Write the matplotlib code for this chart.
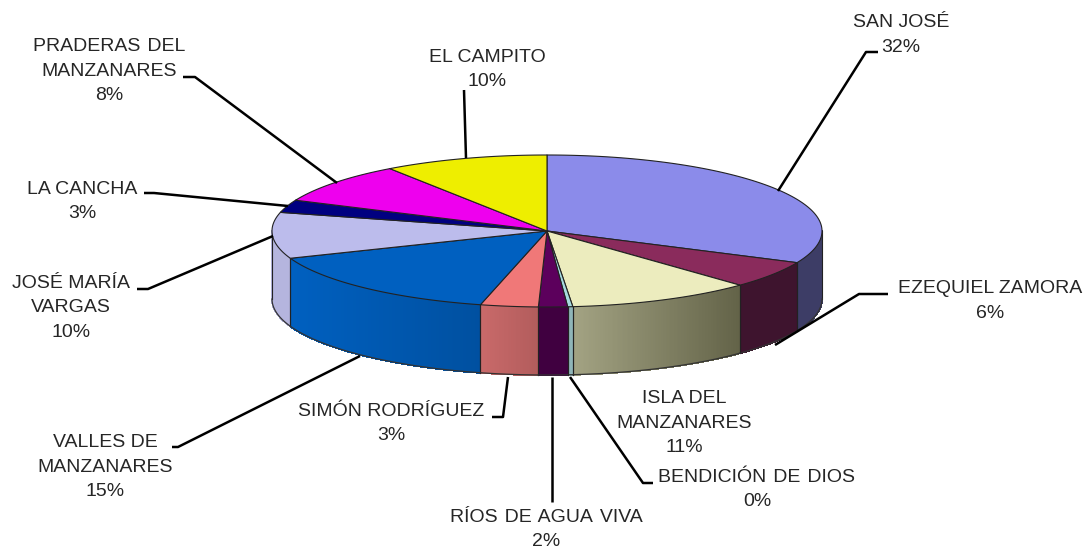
import numpy as np
import matplotlib
matplotlib.use('Agg')
import matplotlib.pyplot as plt
from matplotlib.colors import to_rgb

plt.rcParams['font.family'] = ['Liberation Sans', 'DejaVu Sans']

# shares, clockwise from 12 o'clock
names = ['SAN JOSÉ', 'EZEQUIEL ZAMORA', 'ISLA DEL\nMANZANARES', 'BENDICIÓN\u200a DE\u200a DIOS',
         'RÍOS\u200a DE\u200a AGUA\u200a VIVA', 'SIMÓN RODRÍGUEZ', 'VALLES DE\nMANZANARES', 'JOSÉ MARÍA\nVARGAS',
         'LA CANCHA', 'PRADERAS\u200a DEL\nMANZANARES', 'EL CAMPITO']
shares = [31.9, 5.8, 10.9, 0.3, 1.7, 3.4, 15.3, 9.8, 2.7, 8.7, 9.7]
printed = ['32%', '6%', '11%', '0%', '2%', '3%', '15%', '10%', '3%', '8%', '10%']

top_colors = ['#8b8bea', '#8a2b5c', '#ececbe', '#a6dadf', '#5c005c', '#f07878',
              '#0060c0', '#bcbcec', '#000080', '#ee00ee', '#eeee00']
side_left = ['#3d3d66', '#3e142e', '#a3a383', '#8fb5b8', '#400040', '#c96a6a',
             '#0060c0', '#b5b5de', '#000060', '#a000a0', '#a0a000']
side_right = ['#3d3d66', '#3e142e', '#636348', '#8fb5b8', '#400040', '#b25c5c',
              '#0050a0', '#b5b5de', '#000060', '#a000a0', '#a0a000']

label_pos = [(901, 20), (990, 286), (684, 396), (757, 475), (546, 515), (391, 409),
             (105, 440), (71, 281), (82, 187), (109, 44), (487, 55)]

leaders = [[(878, 52), (866, 52), (778, 191)],
           [(888, 294), (859, 294), (775, 345)],
           None,
           [(653, 483), (643, 483), (570, 377)],
           [(552, 502), (552, 377)],
           [(492, 417), (503, 417), (508, 377)],
           [(172, 447), (178, 447), (360, 356)],
           [(137, 289), (148, 289), (273, 236)],
           [(144, 193), (154, 193), (288, 206)],
           [(183, 77), (195, 77), (337, 183)],
           [(464, 90), (466, 158)]]

cx, cy, rx, ry, depth = 547, 231, 275, 76, 68


def rim(a):
    return cx + rx * np.cos(a), cy - ry * np.sin(a)


fig = plt.figure(figsize=(10.91, 5.5), dpi=100)
ax = fig.add_axes([0, 0, 1, 1])
ax.set_xlim(0, 1091)
ax.set_ylim(550, 0)
ax.axis('off')

bounds = np.pi / 2 - 2 * np.pi * np.concatenate([[0], np.cumsum(shares)]) / sum(shares)

# side wall first, only the part of the rim below the centre line shows
for i in range(len(shares)):
    a0, a1 = bounds[i], bounds[i + 1]
    lo = max(a1, -np.pi)
    hi = min(a0, 0)
    if hi <= lo:
        continue
    angs = np.linspace(hi, lo, max(int((hi - lo) * 160), 2))
    xs, ys = rim(angs)
    c0, c1 = np.array(to_rgb(side_left[i])), np.array(to_rgb(side_right[i]))
    for k in range(len(angs) - 1):
        t = (xs[k] - xs.min()) / max(xs.max() - xs.min(), 1)
        col = c0 + (c1 - c0) * t
        ax.fill([xs[k], xs[k + 1], xs[k + 1], xs[k]],
                [ys[k], ys[k + 1], ys[k + 1] + depth, ys[k] + depth],
                facecolor=col, edgecolor=col, lw=0.8, antialiased=False, zorder=2)
    ax.plot([xs[0], xs[0]], [ys[0], ys[0] + depth], color='#222222', lw=0.8, zorder=3)
    ax.plot([xs[-1], xs[-1]], [ys[-1], ys[-1] + depth], color='#222222', lw=0.8, zorder=3)
    ax.plot(xs, ys + depth, color='#333333', lw=0.9, zorder=3)

# top face
for i in range(len(shares)):
    angs = np.linspace(bounds[i], bounds[i + 1], 200)
    xs, ys = rim(angs)
    ax.fill(np.r_[cx, xs], np.r_[cy, ys], facecolor=top_colors[i],
            edgecolor='#222222', lw=0.8, joinstyle='round', zorder=4)

for pts in leaders:
    if pts is not None:
        px, py = zip(*pts)
        ax.plot(px, py, color='black', lw=1.8, zorder=5, solid_capstyle='butt')

for i in range(len(names)):
    x, y = label_pos[i]
    lines = names[i].split('\n') + [printed[i]]
    for n, line in enumerate(lines):
        ax.text(x, y + 7 + n * 24.5, line, ha='center', va='baseline', fontsize=14,
                color='#262626', zorder=6)

fig.savefig('out.png', dpi=100)
